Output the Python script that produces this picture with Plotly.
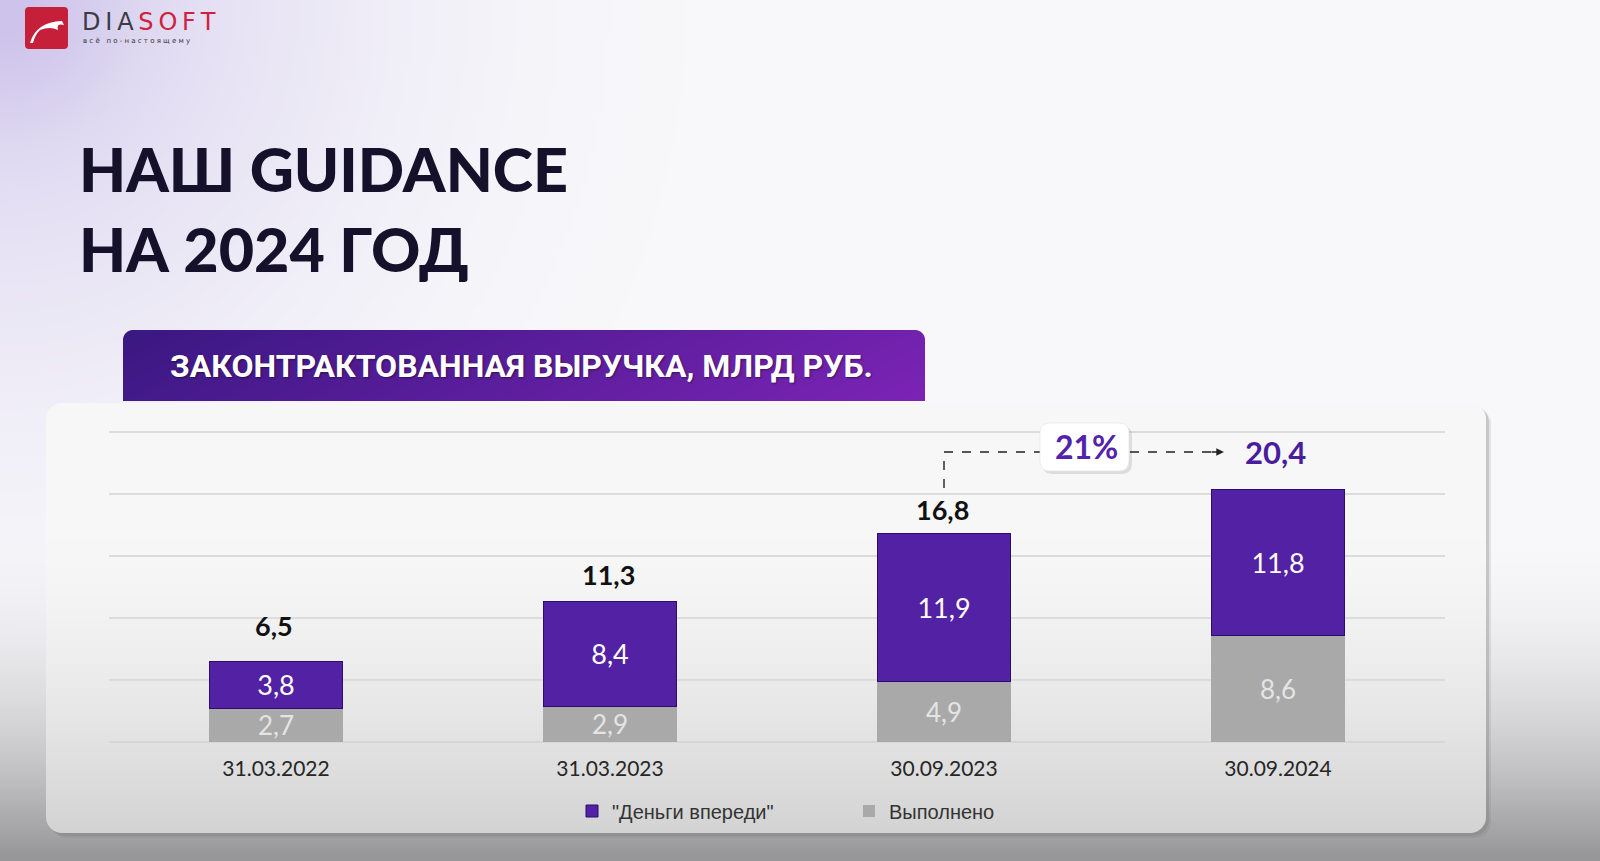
import base64
import struct
import zlib

import numpy as np
import plotly.graph_objects as go

# ---------------- data ----------------
CATEGORIES = ["31.03.2022", "31.03.2023", "30.09.2023", "30.09.2024"]
DONE = [2.7, 2.9, 4.9, 8.6]            # "Выполнено"
AHEAD = [3.8, 8.4, 11.9, 11.8]         # "Деньги впереди"
GROWTH_LABEL = "21%"
SERIES_NAMES = ["Выполнено", "\"Деньги впереди\""]
TITLE_LINES = ["НАШ GUIDANCE", "НА 2024 ГОД"]
SUBTITLE = "ЗАКОНТРАКТОВАННАЯ ВЫРУЧКА, МЛРД РУБ."

W, H = 1600, 861


def fmt(v):
    return f"{v:.1f}".replace(".", ",")


TOTALS = [round(a + b, 1) for a, b in zip(DONE, AHEAD)]


# ---------------- helpers ----------------
def png_uri(rgba):
    h, w, _ = rgba.shape
    raw = b"".join(b"\x00" + rgba[i].tobytes() for i in range(h))

    def chunk(t, d):
        c = struct.pack(">I", len(d)) + t + d
        return c + struct.pack(">I", zlib.crc32(t + d) & 0xFFFFFFFF)

    png = (b"\x89PNG\r\n\x1a\n"
           + chunk(b"IHDR", struct.pack(">IIBBBBB", w, h, 8, 6, 0, 0, 0))
           + chunk(b"IDAT", zlib.compress(raw, 9))
           + chunk(b"IEND", b""))
    return "data:image/png;base64," + base64.b64encode(png).decode()


def px(x):
    return x / W


def py(y):
    return 1 - y / H


def P(x, y):
    return f"{px(x):.5f},{py(y):.5f}"


def rrect(x0, y0, x1, y1, r, top_only=False):
    rb = 0 if top_only else r
    return (f"M {P(x0 + r, y0)} L {P(x1 - r, y0)} Q {P(x1, y0)} {P(x1, y0 + r)} "
            f"L {P(x1, y1 - rb)} Q {P(x1, y1)} {P(x1 - rb, y1)} "
            f"L {P(x0 + rb, y1)} Q {P(x0, y1)} {P(x0, y1 - rb)} "
            f"L {P(x0, y0 + r)} Q {P(x0, y0)} {P(x0 + r, y0)} Z")


def rr_mask(w, h, r, top_only=False):
    yy, xx = np.mgrid[0:h, 0:w] + 0.5
    dx = np.maximum(np.maximum(r - xx, xx - (w - r)), 0)
    dy_top = np.maximum(r - yy, 0)
    dy_bot = 0 if top_only else np.maximum(yy - (h - r), 0)
    dy = np.maximum(dy_top, dy_bot)
    d = np.sqrt(dx ** 2 + dy ** 2)
    m = np.clip(r - d + 0.5, 0, 1)
    if top_only:
        m = np.where(yy > r, 1.0, m)
    return m


# background gradient (lavender top-left, grey vignette bottom)
bw, bh = 400, 216
xs = np.linspace(0, W, bw)[None, :]
ys = np.linspace(0, H, bh)[:, None]
t = (0.58 * np.exp(-((xs / 380) ** 2 + (ys / 400) ** 2))
     + 0.42 * np.exp(-((xs / 120) ** 2 + (ys / 120) ** 2)))
white = np.array([249, 249, 251], float)
lav = np.array([205, 195, 235], float)
grey = np.array([150, 150, 152], float)
img = white[None, None, :] + t[..., None] * (lav - white)[None, None, :]
g = np.clip((ys - 520) / (H - 520), 0, 1) ** 2
img = img + g[..., None] * (grey[None, None, :] - img)
bg = np.dstack([np.clip(img, 0, 255).astype(np.uint8),
                np.full((bh, bw), 255, np.uint8)])

# card (rounded, vertical gradient, soft shadow)
CX0, CY0, CX1, CY1 = 46, 403, 1486, 833
cw, ch = CX1 - CX0, CY1 - CY0
pad = 5
canvas_w, canvas_h = cw + pad, ch + pad
card_m = np.zeros((canvas_h, canvas_w))
card_m[:ch, :cw] = rr_mask(cw, ch, 16)
sh_m = np.zeros((canvas_h, canvas_w))
sh_m[3:3 + ch, 3:3 + cw] = 0.35 * rr_mask(cw, ch, 16)
sh_m2 = np.zeros((canvas_h, canvas_w))
sh_m2[5:5 + ch, 5:5 + cw] = 0.15 * rr_mask(cw, ch, 16)
sh_m = np.maximum(sh_m, sh_m2)
rows = np.arange(canvas_h)[:, None] + CY0
cval = 247 - 36 * np.clip((rows - 540) / (CY1 - 540), 0, 1) ** 1.5
card_col = np.repeat(cval, canvas_w, axis=1)
sh_col = 110.0
a_out = card_m + sh_m * (1 - card_m)
col = np.where(a_out > 0,
               (card_col * card_m + sh_col * sh_m * (1 - card_m)) / np.maximum(a_out, 1e-6),
               0)
card = np.dstack([np.clip(col, 0, 255).astype(np.uint8)] * 3
                 + [(a_out * 255).astype(np.uint8)])

# banner gradient with rounded top corners
BX0, BY0, BX1, BY1 = 123, 330, 925, 401
bwid, bhgt = BX1 - BX0, BY1 - BY0
gx = np.linspace(0, 1, bwid)[None, :]
gy = np.linspace(0, 1, bhgt)[:, None]
c0 = np.array([58, 24, 130], float)
c1 = np.array([124, 36, 182], float)
tt = np.clip(0.85 * gx + 0.15 * gy, 0, 1)
ban = c0[None, None, :] + tt[..., None] * (c1 - c0)[None, None, :]
alpha = rr_mask(bwid, bhgt, 10, top_only=True)
banner = np.dstack([np.clip(ban, 0, 255).astype(np.uint8),
                    (alpha * 255).astype(np.uint8)])

# ---------------- figure ----------------
PURPLE = "#5321a4"
GREY = "#a9a9a9"
NUM_FONT = "Lato"

fig = go.Figure()
fig.add_trace(go.Bar(
    x=CATEGORIES, y=DONE, name=SERIES_NAMES[0],
    marker=dict(color=GREY, line=dict(width=0)),
    text=[fmt(v) for v in DONE], textposition="inside",
    insidetextanchor="middle", textangle=0, constraintext="none",
    textfont=dict(family=NUM_FONT, size=26, color="#e4e4e4"),
    width=0.4, hoverinfo="skip",
))
fig.add_trace(go.Bar(
    x=CATEGORIES, y=AHEAD, name=SERIES_NAMES[1],
    marker=dict(color=PURPLE, line=dict(width=1, color="#2c0c6e")),
    text=[fmt(v) for v in AHEAD], textposition="inside",
    insidetextanchor="middle", textangle=0, constraintext="none",
    textfont=dict(family=NUM_FONT, size=27, color="#ffffff"),
    width=0.4, hoverinfo="skip",
))

annotations = []
# totals above bars
TOTAL_SHIFT = [36, 27, 24, 37]
for i, (cat, tot) in enumerate(zip(CATEGORIES, TOTALS)):
    last = i == len(CATEGORIES) - 1
    annotations.append(dict(
        x=cat, y=tot, xref="x", yref="y", text=f"<b>{fmt(tot)}</b>",
        showarrow=False, yanchor="middle", yshift=TOTAL_SHIFT[i],
        xshift=-3 if last else -2,
        font=dict(family=NUM_FONT, size=31 if last else 27,
                  color="#4a1c9e" if last else "#111111"),
    ))

# titles
annotations += [
    dict(x=px(77), y=py(169), xref="paper", yref="paper", xanchor="left",
         yanchor="middle", text=TITLE_LINES[0], showarrow=False,
         font=dict(family="Lato", size=61, weight=900, color="#15112b")),
    dict(x=px(77), y=py(248), xref="paper", yref="paper", xanchor="left",
         yanchor="middle", text=TITLE_LINES[1], showarrow=False,
         font=dict(family="Lato", size=61, weight=900, color="#15112b")),
    dict(x=px(521), y=py(366), xref="paper", yref="paper", xanchor="center",
         yanchor="middle", text=f"<b>{SUBTITLE}</b>", showarrow=False,
         font=dict(family="Roboto", size=32, color="#ffffff",
                   shadow="1px 1px 2px rgba(0,0,0,0.45)")),
    # growth label
    dict(x=px(1086), y=py(447), xref="paper", yref="paper", xanchor="center",
         yanchor="middle", text=f"<b>{GROWTH_LABEL}</b>", showarrow=False,
         font=dict(family=NUM_FONT, size=32, color="#5322ad")),
    # arrow head
    dict(x=px(1224), y=py(452), xref="paper", yref="paper", text="",
         showarrow=True, ax=-14, ay=0, arrowhead=2, arrowsize=1.1,
         arrowwidth=1.4, arrowcolor="#222222"),
    # logo text
    dict(x=px(80), y=py(22), xref="paper", yref="paper", xanchor="left",
         yanchor="middle", showarrow=False,
         text=("<span style='color:#3b3b44'>D\u2009I\u2009A\u2009</span>"
               "<span style='color:#d0213f'>S\u2009O\u2009F\u2009T</span>"),
         font=dict(family="DejaVu Sans", size=24)),
    dict(x=px(81), y=py(41), xref="paper", yref="paper", xanchor="left",
         yanchor="middle", showarrow=False, text="в с ё   п о - н а с т о я щ е м у",
         font=dict(family="DejaVu Sans", size=7, color="#333333")),
]

shapes = [
    # dashed connector
    dict(type="line", xref="paper", yref="paper", x0=px(944), x1=px(944),
         y0=py(488), y1=py(452), line=dict(color="#222222", width=1.4, dash="dash")),
    dict(type="line", xref="paper", yref="paper", x0=px(944), x1=px(1040),
         y0=py(452), y1=py(452), line=dict(color="#222222", width=1.4, dash="dash")),
    dict(type="line", xref="paper", yref="paper", x0=px(1130), x1=px(1222),
         y0=py(452), y1=py(452), line=dict(color="#222222", width=1.4, dash="dash")),
    # growth box
    dict(type="path", xref="paper", yref="paper",
         path=rrect(1042, 426, 1132, 474, 10),
         fillcolor="rgba(0,0,0,0.10)", line=dict(width=0)),
    dict(type="path", xref="paper", yref="paper",
         path=rrect(1040, 423, 1129, 471, 10),
         fillcolor="#ffffff", line=dict(width=0.6, color="#e2e2e2")),
    # logo
    dict(type="path", xref="paper", yref="paper",
         path=rrect(25, 7, 68, 49, 4), fillcolor="#c51f3a", line=dict(width=0)),
    dict(type="path", xref="paper", yref="paper",
         path=(f"M {P(30, 43)} Q {P(36, 22)} {P(62, 21)} L {P(64, 25)} "
               f"Q {P(56, 23)} {P(58, 30)} Q {P(50, 26)} {P(40, 30)} "
               f"Q {P(35, 35)} {P(33, 43)} Z"),
         fillcolor="#ffffff", line=dict(width=0)),
]

Y_TOP = 25.1
fig.update_layout(
    width=W, height=H,
    margin=dict(l=0, r=0, t=0, b=0),
    paper_bgcolor="#ffffff", plot_bgcolor="rgba(0,0,0,0)",
    barmode="stack", bargap=0.6,
    showlegend=True,
    legend=dict(orientation="h", x=px(572), y=py(811), xanchor="left",
                yanchor="middle", traceorder="reversed",
                font=dict(family="Liberation Sans", size=20, color="#333333"),
                bgcolor="rgba(0,0,0,0)", itemwidth=30,
                entrywidth=232, entrywidthmode="pixels"),
    xaxis=dict(domain=[px(109), px(1445)], range=[-0.5, 3.5],
               showgrid=False, showline=False, ticks="", zeroline=False,
               tickfont=dict(family=NUM_FONT, size=21, color="#262626"),
               ticklabelstandoff=12, fixedrange=True),
    yaxis=dict(domain=[py(742), py(742 - Y_TOP * 12.4)], range=[0, Y_TOP], dtick=5,
               showgrid=True, gridcolor="#dcdcdc", gridwidth=2,
               zeroline=True, zerolinecolor="#d6d6d6", zerolinewidth=2,
               showticklabels=False, ticks="", showline=False, fixedrange=True),
    annotations=annotations,
    shapes=shapes,
    images=[
        dict(source=png_uri(bg), xref="paper", yref="paper", x=0, y=1,
             sizex=1, sizey=1, sizing="stretch", xanchor="left", yanchor="top",
             layer="below"),
        dict(source=png_uri(card), xref="paper", yref="paper",
             x=px(CX0), y=py(CY0), sizex=canvas_w / W, sizey=canvas_h / H,
             sizing="stretch", xanchor="left", yanchor="top", layer="below"),
        dict(source=png_uri(banner), xref="paper", yref="paper",
             x=px(BX0), y=py(BY0), sizex=bwid / W, sizey=bhgt / H,
             sizing="stretch", xanchor="left", yanchor="top", layer="above"),
    ],
)

fig.write_html("out.html", config={"displayModeBar": False},
               post_script="document.body.style.margin='0';")
